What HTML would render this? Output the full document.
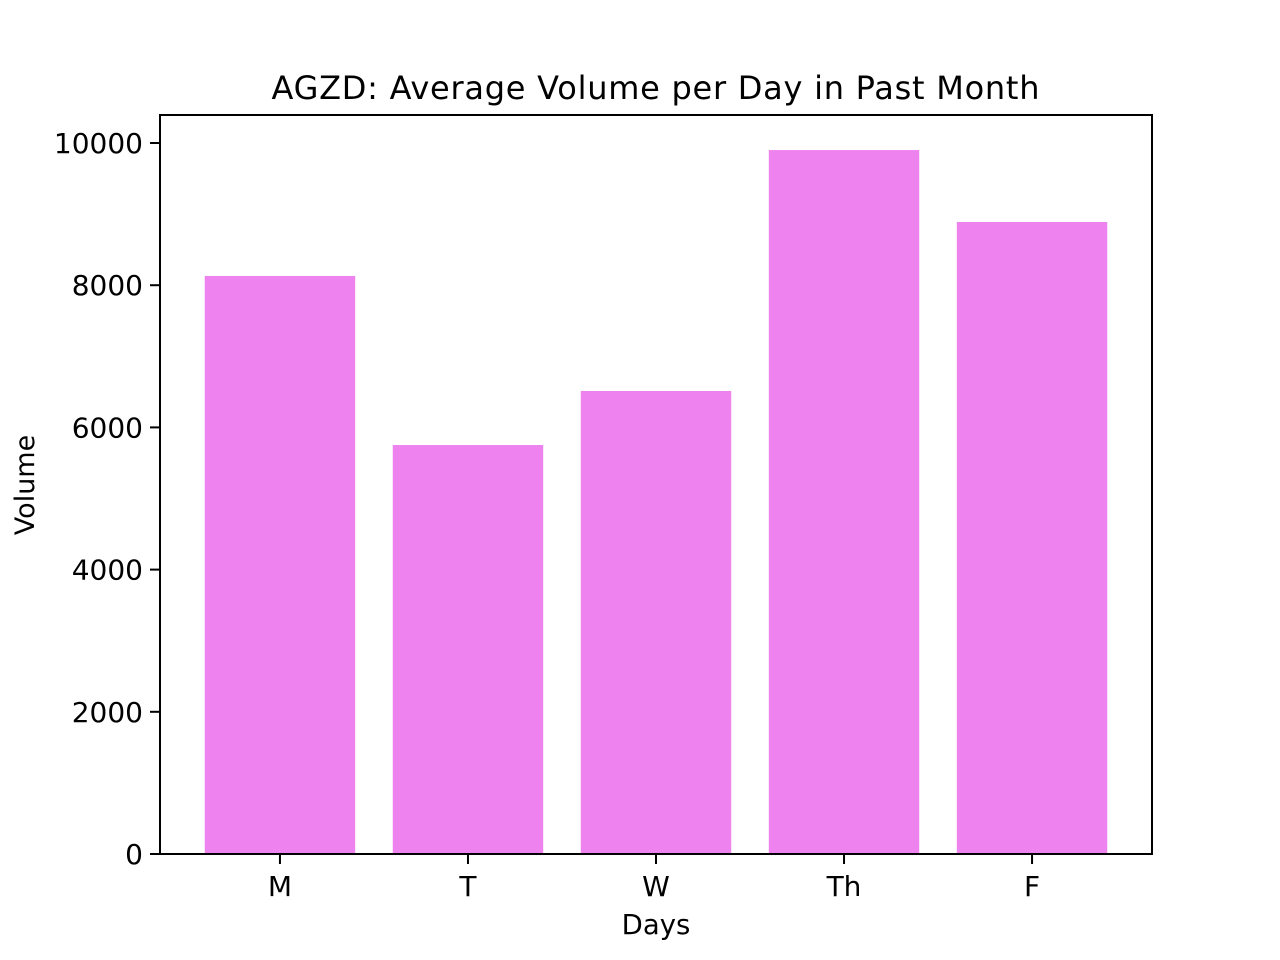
<!DOCTYPE html>
<html><head><meta charset="utf-8"><style>
html,body{margin:0;padding:0;background:#fff;}
svg{display:block;font-family:"DejaVu Sans","Liberation Sans",sans-serif;}
</style></head><body>
<svg id="chart" width="1280" height="960" viewBox="0 0 1280 960">
<rect width="1280" height="960" fill="#fff"/>
<text x="655.5" y="99" font-size="32" text-anchor="middle" textLength="768">AGZD: Average Volume per Day in Past Month</text>
<g id="bars"></g>
<g id="axes"></g>
<rect x="160" y="115" width="992" height="739" fill="none" stroke="#000" stroke-width="2"/>
<text x="656" y="934" font-size="27.5" text-anchor="middle">Days</text>
<text transform="translate(34,485) rotate(-90)" font-size="27" text-anchor="middle">Volume</text>
</svg>
<script>
const categories = ["M","T","W","Th","F"];
const volumes = [8130, 5752, 6512, 9901, 8889];
const yTicks = [0,2000,4000,6000,8000,10000];
const yTickLabels = ["0","2000","4000","6000","8000","10000"];

const L=160,R=1152,T=115,B=854;
const xMin=-0.638,xMax=4.638,yMin=0,yMax=10394;
const xs=v=>L+(v-xMin)/(xMax-xMin)*(R-L);
const ys=v=>B-(v-yMin)/(yMax-yMin)*(B-T);
const NS="http://www.w3.org/2000/svg";
const bars=document.getElementById('bars'),axes=document.getElementById('axes');
function mk(tag,attrs,parent){const e=document.createElementNS(NS,tag);for(const k in attrs)e.setAttribute(k,attrs[k]);parent.appendChild(e);return e;}
const bw=0.8;
categories.forEach((c,i)=>{
  const x0=xs(i-bw/2),x1=xs(i+bw/2);
  const r=mk('rect',{x:x0,y:ys(volumes[i]),width:x1-x0,height:ys(0)-ys(volumes[i]),fill:'#EE82EE'},bars);
  
  
  const tk=mk('line',{x1:xs(i),x2:xs(i),y1:B,y2:B+10,stroke:'#000','stroke-width':2},axes);
  
  
  const t=mk('text',{x:xs(i),y:B+42,'font-size':28,'text-anchor':'middle'},axes);
  t.textContent=c;
  
  
});
yTicks.forEach((v,i)=>{
  const tk=mk('line',{x1:L-10,x2:L,y1:ys(v),y2:ys(v),stroke:'#000','stroke-width':2},axes);
  
  
  const t=mk('text',{x:L-17,y:ys(v)+10,'font-size':28,'text-anchor':'end'},axes);
  t.textContent=yTickLabels[i];
  
  
});
</script>
</body></html>
